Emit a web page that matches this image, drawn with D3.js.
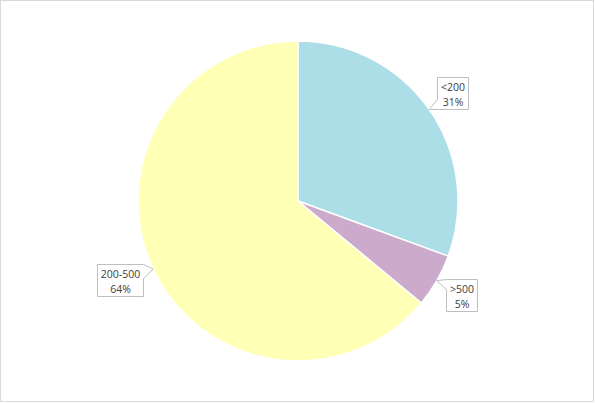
<!DOCTYPE html>
<html><head><meta charset="utf-8">
<script src="https://cdn.jsdelivr.net/npm/d3@7"></script>
<style>html,body{margin:0;padding:0;background:#fff;}svg{display:block;}</style>
</head><body>
<script>
const categories = ["<200", ">500", "200-500"];
const values = [30.6, 5.4, 64.0];
const percentLabels = ["31%", "5%", "64%"];
const colors = ["#ABDEE6", "#CBAACB", "#FFFFB5"];

const W = 595, H = 403;
const cx = 298, cy = 201, R = 160;
const svg = d3.select("body").append("svg").attr("width", W).attr("height", H);
svg.append("rect").attr("x", 0.5).attr("y", 0.5).attr("width", W - 2).attr("height", H - 2)
  .attr("fill", "#fff").attr("stroke", "#d9d9d9");

const pie = d3.pie().sort(null).value(d => d)(values);
const arc = d3.arc().innerRadius(0).outerRadius(R);
const g = svg.append("g").attr("transform", `translate(${cx},${cy})`);
g.selectAll("path.slice").data(pie).join("path").attr("class", "slice")
  .attr("d", arc).attr("fill", (d, i) => colors[i])
  .attr("stroke", "#fff").attr("stroke-width", 1.5).attr("stroke-linejoin", "round");

const labelR = [189, 188, 186];
const lg = svg.append("g");
pie.forEach((d, i) => {
  const a = (d.startAngle + d.endAngle) / 2;
  const tipX = cx + Math.sin(a) * 160, tipY = cy - Math.cos(a) * 160;
  let bx = cx + Math.sin(a) * labelR[i], by = cy - Math.cos(a) * labelR[i];
  const grp = lg.append("g");
  const t1 = grp.append("text").text(categories[i]);
  const t2 = grp.append("text").text(percentLabels[i]);
  [t1, t2].forEach(t => t.attr("font-family", "'Segoe UI','Open Sans','Noto Sans',sans-serif")
    .attr("font-size", 10.5).attr("fill", "#404040").attr("text-anchor", "middle"));
  const tw = Math.max(t1.node().getComputedTextLength(), t2.node().getComputedTextLength());
  const bw = Math.round(tw + 7), bh = 32;
  if (Math.sin(a) < 0) bx -= 10;
  const x0 = Math.round(bx - bw / 2) + 0.5, y0 = Math.round(by - bh / 2) + 0.5;
  const x1 = x0 + bw, y1 = y0 + bh;
  t1.attr("x", (x0 + x1) / 2).attr("y", y0 + 13);
  t2.attr("x", (x0 + x1) / 2).attr("y", y0 + 28.5);
  const clamp = (v, lo, hi) => Math.max(lo, Math.min(hi, v));
  let p;
  if (tipX < x0) {
    const c = clamp(tipY, y0 + 5, y1 - 5);
    const b0 = clamp(c - 5, y0, y1 - 10), b1 = b0 + 10;
    p = [[x0, y0], [x1, y0], [x1, y1], [x0, y1], [x0, b1], [tipX, tipY], [x0, b0]];
  } else {
    const c = clamp(tipY, y0 + 5, y1 - 5);
    const b0 = clamp(c - 5, y0, y1 - 14), b1 = b0 + 14;
    p = [[x0, y0], [x1, y0], [x1, b0], [tipX, tipY], [x1, b1], [x1, y1], [x0, y1]];
  }
  grp.insert("path", "text").attr("d", "M" + p.map(q => q.join(",")).join("L") + "Z")
    .attr("fill", "#fff").attr("stroke", "#bfbfbf").attr("stroke-width", 1);
});
</script>
</body></html>
